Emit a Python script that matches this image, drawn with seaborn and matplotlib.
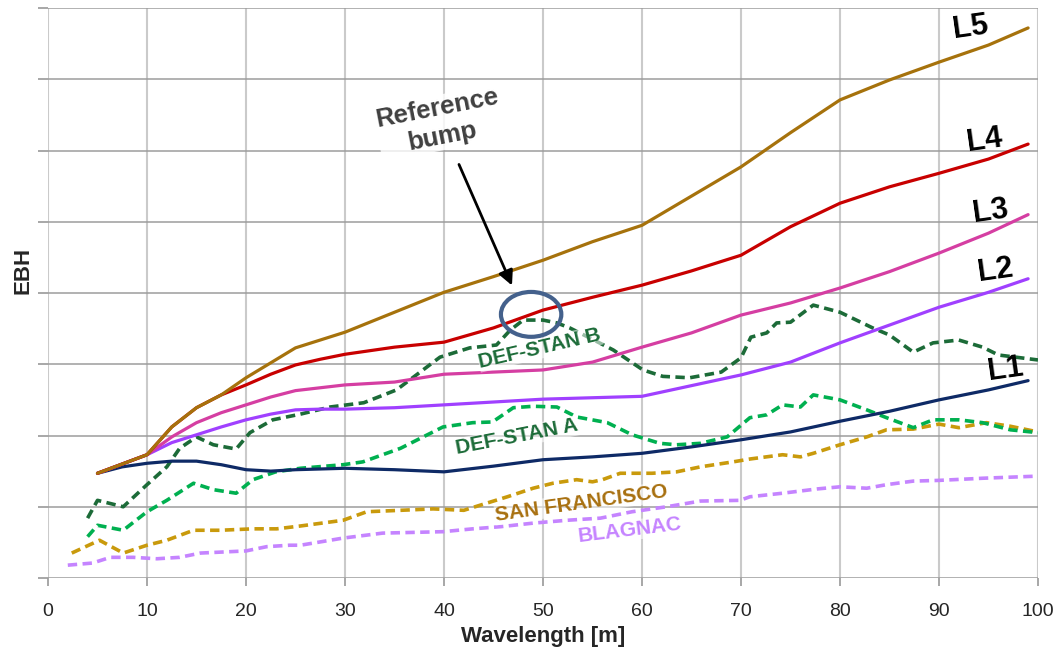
import numpy as np
import pandas as pd
import matplotlib
matplotlib.use("Agg")
import matplotlib.pyplot as plt
from matplotlib.patches import Ellipse
import seaborn as sns

# Limit curves L1..L5 (common wavelength grid)
x_limits = [5, 7.5, 10, 12.5, 15, 17.5, 20, 22.5, 25, 27.5, 30, 35, 40, 45, 50, 55, 60, 65, 70, 75, 80, 85, 90, 95, 99]
L5 = [1.47, 1.60, 1.73, 2.12, 2.39, 2.57, 2.81, 3.02, 3.23, 3.34, 3.45, 3.73, 4.01, 4.23, 4.46, 4.72, 4.95, 5.36,
      5.77, 6.25, 6.71, 6.99, 7.24, 7.48, 7.72]
L4 = [1.47, 1.60, 1.73, 2.12, 2.39, 2.57, 2.71, 2.86, 2.99, 3.07, 3.14, 3.24, 3.31, 3.51, 3.76, 3.94, 4.11, 4.31,
      4.53, 4.93, 5.26, 5.49, 5.68, 5.88, 6.09]
L3 = [1.47, 1.60, 1.73, 1.98, 2.18, 2.32, 2.43, 2.54, 2.63, 2.67, 2.71, 2.75, 2.86, 2.89, 2.92, 3.03, 3.24, 3.44,
      3.69, 3.86, 4.07, 4.30, 4.56, 4.84, 5.10]
L2 = [1.47, 1.60, 1.73, 1.90, 2.01, 2.12, 2.22, 2.30, 2.36, 2.37, 2.37, 2.39, 2.43, 2.47, 2.51, 2.53, 2.55, 2.70,
      2.85, 3.03, 3.30, 3.55, 3.80, 4.01, 4.20]
L1 = [1.47, 1.56, 1.61, 1.64, 1.64, 1.59, 1.52, 1.50, 1.52, 1.53, 1.54, 1.52, 1.49, 1.57, 1.66, 1.70, 1.75, 1.84,
      1.94, 2.05, 2.20, 2.34, 2.50, 2.64, 2.77]

# Measured / standard profiles
defstan_b_x = [4, 5, 7.6, 10, 12, 13.3, 15, 16.7, 19, 20.4, 22.7, 25.5, 28.5, 31.9, 35.2, 39.6, 42.6, 45.3, 46.7, 48,
               50, 51.4, 52.7, 55, 57.1, 60.1, 62.1, 64.8, 68, 70, 71, 72.6, 73.6, 75, 77.3, 80, 83.3, 85, 87.4, 89.4,
               92, 94.4, 96, 100]
defstan_b = [0.84, 1.09, 1.00, 1.31, 1.56, 1.82, 1.98, 1.87, 1.81, 2.04, 2.22, 2.30, 2.40, 2.46, 2.64, 3.10, 3.23, 3.27,
             3.48, 3.62, 3.62, 3.58, 3.51, 3.35, 3.20, 2.92, 2.83, 2.81, 2.89, 3.09, 3.38, 3.44, 3.58, 3.59, 3.83, 3.73,
             3.51, 3.41, 3.17, 3.30, 3.34, 3.24, 3.13, 3.06]

defstan_a_x = [4, 5, 7.6, 10, 12, 14.7, 16.7, 19, 20.7, 23, 25.5, 29.8, 31.8, 35.6, 39.9, 42.9, 44.9, 47, 49, 51.4, 53.4,
               56.5, 59, 61.8, 63.5, 65.9, 68.6, 70.9, 72.6, 74.2, 76, 77.3, 80, 82.7, 84.7, 87.4, 89.4, 92, 94.4, 97.2,
               100]
defstan_a = [0.58, 0.74, 0.67, 0.93, 1.09, 1.33, 1.24, 1.19, 1.38, 1.49, 1.54, 1.59, 1.63, 1.82, 2.12, 2.18, 2.19, 2.39,
             2.41, 2.40, 2.26, 2.18, 2.01, 1.89, 1.87, 1.89, 1.98, 2.25, 2.29, 2.43, 2.40, 2.57, 2.50, 2.36, 2.25, 2.11,
             2.22, 2.22, 2.18, 2.08, 2.04]

sf_x = [2.4, 5.2, 7.6, 10, 12, 14.7, 17.4, 20.7, 23.1, 25.5, 29.8, 32.2, 35.6, 38.9, 42, 44.3, 46.4, 49, 51, 53.4, 55,
        56, 57.8, 61, 63.5, 65.9, 69.2, 70.9, 74.2, 76, 77.3, 80, 82.7, 84.7, 87.4, 90, 92, 94.8, 97.2, 100]
san_francisco = [0.35, 0.53, 0.35, 0.46, 0.53, 0.67, 0.67, 0.69, 0.69, 0.73, 0.81, 0.93, 0.95, 0.97, 0.95, 1.05, 1.14,
                 1.26, 1.33, 1.38, 1.35, 1.38, 1.47, 1.47, 1.49, 1.56, 1.63, 1.67, 1.73, 1.70, 1.75, 1.87, 1.98, 2.08,
                 2.09, 2.16, 2.11, 2.18, 2.13, 2.05]

blagnac_x = [2, 4.5, 6.3, 8.6, 11, 13.3, 15.4, 20, 22.1, 24.4, 25.5, 29.8, 33.8, 39.9, 42.9, 45.7, 49, 52.4, 55.8, 59,
             62.5, 65.9, 69.9, 70.9, 74.2, 77.7, 80, 82.7, 84.7, 87.4, 90, 94.4, 100]
blagnac = [0.18, 0.21, 0.29, 0.29, 0.27, 0.29, 0.35, 0.38, 0.44, 0.46, 0.46, 0.56, 0.63, 0.65, 0.69, 0.72, 0.77, 0.81,
           0.84, 0.93, 1.00, 1.08, 1.09, 1.14, 1.19, 1.25, 1.28, 1.26, 1.31, 1.36, 1.37, 1.40, 1.43]

x_ticks = [0, 10, 20, 30, 40, 50, 60, 70, 80, 90, 100]

sns.set_theme(style="white")
plt.rcParams["font.family"] = ["Liberation Sans", "DejaVu Sans"]

fig = plt.figure(figsize=(10.59, 6.59), dpi=100)
ax = fig.add_axes([48 / 1059, 81 / 659, 990 / 1059, 570 / 659])

# Grid: light vertical lines, darker horizontal lines
for xv in x_ticks:
    ax.axvline(xv, color="#cacaca", lw=1.5, zorder=0)
for yv in range(9):
    ax.axhline(yv, color="#9c9c9c", lw=1.1, zorder=0)

dash = (2.6, 1.5)
profiles = [
    (blagnac_x, blagnac, "#c584ff"),
    (sf_x, san_francisco, "#c99a0c"),
    (defstan_a_x, defstan_a, "#00b050"),
    (defstan_b_x, defstan_b, "#1c6b38"),
]
for xs, ys, col in profiles:
    sns.lineplot(x=xs, y=ys, ax=ax, color=col, lw=2.6, sort=False,
                 linestyle=(0, dash), zorder=2)

limits = [(L1, "#0e2a66"), (L2, "#a040ff"), (L3, "#d53ea2"), (L4, "#c80000"), (L5, "#a6720c")]
for ys, col in limits:
    sns.lineplot(x=x_limits, y=ys, ax=ax, color=col, lw=2.3, sort=False, zorder=3)
for ln in ax.get_lines()[-5:]:
    ln.set_solid_joinstyle("round")
    ln.set_solid_capstyle("round")

ax.set_xlim(0, 100)
ax.set_ylim(0, 8)
ax.set_xticks(x_ticks)
ax.set_yticks(range(9))
ax.set_yticklabels([])
ax.tick_params(axis="x", length=6, color="#9c9c9c", labelsize=14, pad=12, direction="out", bottom=True)
ax.tick_params(axis="y", length=7, color="#9c9c9c", direction="out", left=True)
for side in ["left", "bottom", "top", "right"]:
    ax.spines[side].set_visible(False)

ax.set_xlabel("Wavelength [m]", fontsize=16, fontweight="bold", labelpad=4)
ax.set_ylabel("EBH", fontsize=16, fontweight="bold")
ax.yaxis.set_label_coords(-15 / 990, (578 - 270) / 570)

# Curve labels
for txt, x, y in [("L5", 93.2, 7.73), ("L4", 94.6, 6.14), ("L3", 95.2, 5.14),
                  ("L2", 95.7, 4.32), ("L1", 96.7, 2.92)]:
    ax.text(x, y, txt, fontsize=22, fontweight="bold", color="black", rotation=8,
            ha="center", va="center", rotation_mode="anchor", zorder=5)

halo = dict(facecolor="white", edgecolor="none", alpha=0.55, pad=0.5)
ax.text(49.7, 3.22, "DEF-STAN B", fontsize=15, fontweight="bold", color="#1c6b38", rotation=13,
        ha="center", va="center", rotation_mode="anchor", zorder=5, bbox=halo)
ax.text(47.4, 1.98, "DEF-STAN A", fontsize=15, fontweight="bold", color="#1c6b38", rotation=11,
        ha="center", va="center", rotation_mode="anchor", zorder=5, bbox=halo)
ax.text(53.9, 1.05, "SAN FRANCISCO", fontsize=15, fontweight="bold", color="#a87010", rotation=8,
        ha="center", va="center", rotation_mode="anchor", zorder=5, bbox=halo)
ax.text(58.8, 0.67, "BLAGNAC", fontsize=15, fontweight="bold", color="#c584ff", rotation=7,
        ha="center", va="center", rotation_mode="anchor", zorder=5, bbox=halo)

# Reference bump annotation
ax.text(39.6, 6.39, "Reference\nbump", fontsize=18.5, fontweight="bold", color="#404040", rotation=11,
        ha="center", va="center", rotation_mode="anchor", linespacing=1.25, zorder=5,
        bbox=dict(facecolor="white", edgecolor="none", alpha=0.8, pad=1))
ax.annotate("", xy=(46.98, 4.07), xytext=(41.4, 5.84),
            arrowprops=dict(arrowstyle="-|>", color="black", lw=2, mutation_scale=22), zorder=5)
ax.add_patch(Ellipse((48.8, 3.70), 6.1, 0.63, fill=False, edgecolor="#44618c", lw=3, zorder=6))

fig.savefig("out.png", dpi=100)
